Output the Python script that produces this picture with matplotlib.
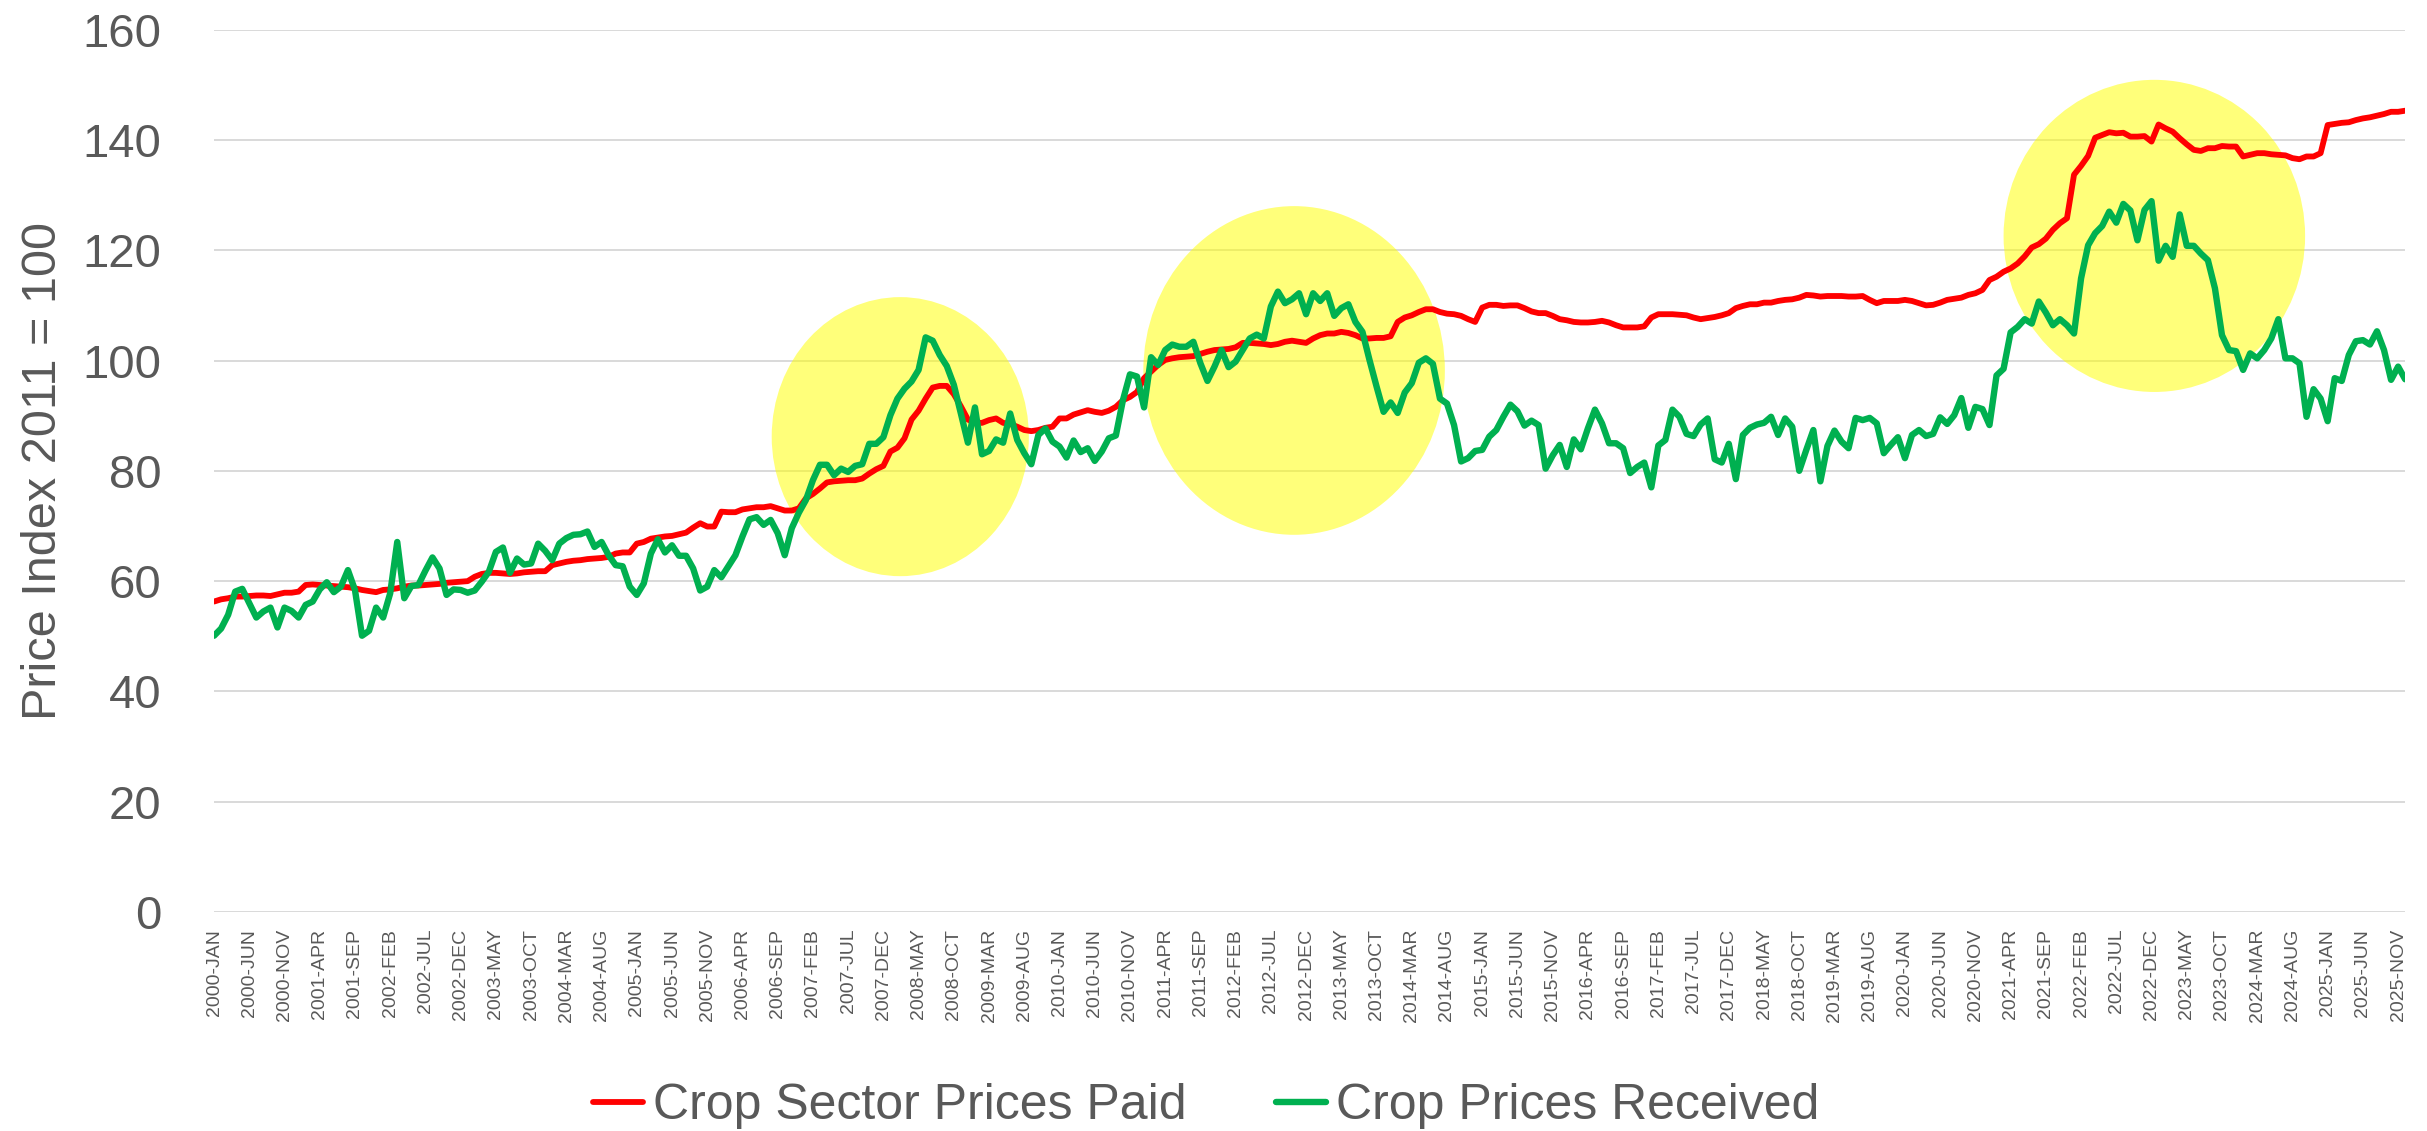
import matplotlib
matplotlib.use("Agg")
import matplotlib.pyplot as plt
from matplotlib.patches import Ellipse

plt.rcParams['font.family'] = ['Liberation Sans', 'DejaVu Sans']

# monthly series, 2000-JAN .. 2025-DEC
start_year = 2000
month_names = ["JAN", "FEB", "MAR", "APR", "MAY", "JUN",
               "JUL", "AUG", "SEP", "OCT", "NOV", "DEC"]

prices_paid = [
    56.3, 56.7, 56.9, 57.2, 57.2, 57.3, 57.4, 57.4, 57.3, 57.6,
    57.9, 57.9, 58.1, 59.3, 59.4, 59.3, 59.2, 59.1, 59.0, 58.9,
    58.7, 58.4, 58.2, 58.0, 58.4, 58.5, 58.7, 59.0, 59.2, 59.2,
    59.3, 59.4, 59.5, 59.7, 59.8, 59.9, 60.0, 60.8, 61.3, 61.5,
    61.5, 61.4, 61.3, 61.4, 61.6, 61.7, 61.8, 61.8, 62.9, 63.2,
    63.5, 63.7, 63.8, 64.0, 64.1, 64.2, 64.4, 65.0, 65.2, 65.2,
    66.8, 67.1, 67.7, 67.9, 68.1, 68.2, 68.5, 68.8, 69.7, 70.5,
    69.9, 69.9, 72.6, 72.5, 72.5, 73.0, 73.2, 73.4, 73.4, 73.6,
    73.2, 72.8, 72.8, 73.2, 75.0, 75.8, 76.8, 77.9, 78.1, 78.2,
    78.3, 78.3, 78.6, 79.5, 80.3, 80.9, 83.5, 84.2, 85.9, 89.3,
    90.9, 93.1, 95.1, 95.4, 95.4, 93.9, 91.7, 89.3, 88.7, 88.7,
    89.2, 89.5, 88.7, 88.5, 88.0, 87.4, 87.2, 87.4, 87.8, 88.0,
    89.5, 89.5, 90.2, 90.6, 91.0, 90.7, 90.5, 90.9, 91.6, 92.8,
    93.4, 94.3, 96.8, 98.0, 99.2, 100.1, 100.4, 100.6, 100.7, 100.8,
    101.2, 101.6, 101.9, 102.0, 102.1, 102.4, 103.2, 103.2, 103.1, 103.0,
    102.8, 103.0, 103.4, 103.6, 103.4, 103.2, 104.0, 104.6, 104.9, 104.9,
    105.2, 105.0, 104.6, 104.0, 104.0, 104.1, 104.1, 104.4, 107.0, 107.8,
    108.2, 108.8, 109.3, 109.3, 108.8, 108.5, 108.4, 108.1, 107.5, 107.0,
    109.6, 110.1, 110.1, 109.9, 110.0, 110.0, 109.5, 108.9, 108.6, 108.6,
    108.1, 107.5, 107.3, 107.0, 106.9, 106.9, 107.0, 107.2, 106.9, 106.4,
    106.0, 106.0, 106.0, 106.2, 107.8, 108.4, 108.4, 108.4, 108.3, 108.2,
    107.8, 107.5, 107.7, 107.9, 108.2, 108.6, 109.5, 109.9, 110.2, 110.2,
    110.5, 110.5, 110.8, 111.0, 111.1, 111.4, 111.9, 111.8, 111.6, 111.7,
    111.7, 111.7, 111.6, 111.6, 111.7, 111.0, 110.4, 110.8, 110.8, 110.8,
    111.0, 110.8, 110.4, 110.0, 110.1, 110.5, 111.0, 111.2, 111.4, 111.9,
    112.2, 112.8, 114.6, 115.2, 116.1, 116.7, 117.6, 118.9, 120.5, 121.1,
    122.1, 123.7, 124.9, 125.8, 133.7, 135.3, 137.1, 140.4, 140.9, 141.4,
    141.2, 141.3, 140.6, 140.6, 140.7, 139.7, 142.8, 142.1, 141.5, 140.3,
    139.2, 138.2, 138.0, 138.5, 138.5, 138.9, 138.8, 138.8, 137.0, 137.3,
    137.6, 137.6, 137.4, 137.3, 137.2, 136.7, 136.5, 137.0, 137.0, 137.6,
    142.7, 142.9, 143.1, 143.2, 143.6, 143.9, 144.1, 144.4, 144.7, 145.1,
    145.1, 145.3,
]

prices_received = [
    50.1, 51.4, 53.9, 58.1, 58.6, 56.0, 53.4, 54.5, 55.2, 51.6,
    55.2, 54.6, 53.4, 55.7, 56.3, 58.5, 59.8, 58.0, 59.0, 62.0,
    58.4, 50.1, 51.0, 55.2, 53.4, 57.8, 67.1, 56.9, 59.1, 59.3,
    61.9, 64.3, 62.3, 57.5, 58.5, 58.4, 57.9, 58.3, 59.9, 61.7,
    65.3, 66.1, 61.5, 64.1, 63.0, 63.2, 66.8, 65.5, 63.8, 66.8,
    67.8, 68.4, 68.5, 69.0, 66.2, 67.1, 64.7, 62.9, 62.7, 59.0,
    57.5, 59.6, 65.0, 67.6, 65.2, 66.5, 64.6, 64.6, 62.3, 58.3,
    59.0, 62.0, 60.7, 62.7, 64.7, 68.1, 71.2, 71.6, 70.2, 71.1,
    68.7, 64.7, 69.6, 72.4, 74.7, 78.3, 81.1, 81.1, 79.2, 80.4,
    79.8, 80.9, 81.2, 84.9, 84.9, 86.1, 90.1, 93.1, 94.9, 96.2,
    98.3, 104.2, 103.6, 101.0, 99.0, 95.6, 90.4, 85.1, 91.5, 83.0,
    83.6, 85.7, 85.1, 90.4, 85.6, 83.2, 81.2, 86.5, 87.7, 85.3,
    84.4, 82.4, 85.5, 83.4, 84.1, 81.8, 83.5, 85.9, 86.4, 92.8,
    97.5, 97.1, 91.5, 100.6, 99.2, 101.9, 102.9, 102.5, 102.5, 103.4,
    99.5, 96.3, 98.9, 101.9, 98.8, 99.8, 101.9, 104.0, 104.7, 104.0,
    109.8, 112.5, 110.4, 111.1, 112.2, 108.4, 112.2, 110.8, 112.2, 108.1,
    109.5, 110.2, 107.0, 105.2, 100.1, 95.3, 90.7, 92.4, 90.5, 94.2,
    95.9, 99.6, 100.4, 99.4, 93.1, 92.2, 88.3, 81.7, 82.3, 83.6,
    83.8, 86.2, 87.4, 89.8, 92.0, 90.8, 88.2, 89.1, 88.3, 80.4,
    82.8, 84.7, 80.7, 85.7, 83.9, 87.7, 91.1, 88.6, 85.0, 85.0,
    84.1, 79.6, 80.7, 81.5, 77.0, 84.6, 85.6, 91.1, 89.8, 86.7,
    86.3, 88.4, 89.5, 82.1, 81.5, 84.9, 78.5, 86.5, 87.8, 88.4,
    88.7, 89.8, 86.5, 89.5, 88.0, 80.0, 83.8, 87.4, 78.1, 84.5,
    87.3, 85.3, 84.1, 89.6, 89.2, 89.6, 88.6, 83.2, 84.7, 86.1,
    82.3, 86.5, 87.4, 86.3, 86.7, 89.7, 88.5, 90.1, 93.2, 87.8,
    91.6, 91.2, 88.3, 97.3, 98.5, 105.1, 106.1, 107.5, 106.7, 110.7,
    108.7, 106.4, 107.5, 106.4, 104.9, 114.9, 120.9, 123.1, 124.4, 127.0,
    125.0, 128.4, 127.2, 121.8, 127.3, 128.9, 118.1, 120.8, 118.8, 126.5,
    120.8, 120.8, 119.4, 118.2, 113.1, 104.6, 101.9, 101.7, 98.3, 101.3,
    100.4, 101.9, 104.0, 107.5, 100.4, 100.4, 99.5, 89.8, 94.8, 93.1,
    89.0, 96.8, 96.3, 101.0, 103.5, 103.7, 102.9, 105.3, 101.9, 96.5,
    98.9, 96.6,
]

n = len(prices_paid)
x = list(range(n))
month_labels = [f"{start_year + i // 12}-{month_names[i % 12]}" for i in range(n)]
tick_pos = x[::5]
tick_labels = month_labels[::5]

# highlight ovals: (center month index, center value, width months, height value)
highlights = [(97.4, 86.2, 36.5, 50.6),
              (153.3, 98.2, 42.8, 59.6),
              (275.4, 122.6, 42.8, 56.6)]

fig = plt.figure(figsize=(24.27, 11.31), dpi=100)
ax = fig.add_axes([0.0882, 0.1936, 0.9028, 0.7802])

for cx, cy, w, h in highlights:
    ax.add_patch(Ellipse((cx, cy), w, h, facecolor="#FFFF00", alpha=0.52,
                         edgecolor="none", zorder=1))

ax.plot(x, prices_paid, color="#FF0000", lw=4.2, zorder=3,
        solid_capstyle="round", label="Crop Sector Prices Paid")
ax.plot(x, prices_received, color="#00B050", lw=4.6, zorder=3,
        solid_capstyle="round", label="Crop Prices Received")

ax.set_xlim(0, n - 1)
ax.set_ylim(0, 160)
ax.set_yticks(range(0, 161, 20))
ax.set_xticks(tick_pos)
ax.set_xticklabels(tick_labels, rotation=90, fontsize=14, color="#595959")
ax.tick_params(axis="y", labelsize=34, labelcolor="#595959", length=0, pad=38)
ax.tick_params(axis="x", length=0, pad=12)
ax.grid(axis="y", color="#D9D9D9", lw=1.4)
ax.set_axisbelow(True)
for s in ax.spines.values():
    s.set_visible(False)

ax.set_ylabel("Price Index 2011 = 100", fontsize=35, color="#595959")
ax.yaxis.set_label_coords(-0.0675, 0.5)

fig.legend(loc="center", bbox_to_anchor=(0.497, 0.022), ncol=2, frameon=False,
           fontsize=36, handlelength=1.0, handletextpad=0.2, columnspacing=1.8,
           labelcolor="#595959")

fig.savefig("out.png", dpi=100)
